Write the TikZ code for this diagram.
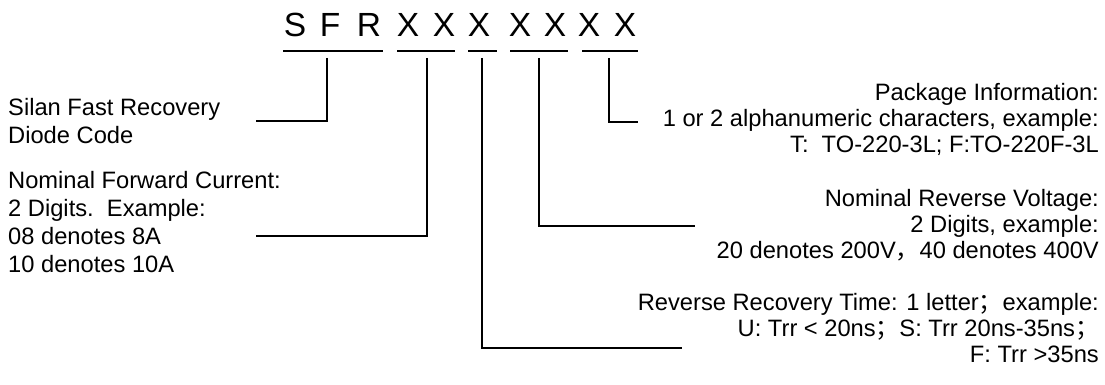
\documentclass[tikz,border=0pt]{standalone}
\usepackage{fontspec}
\setmainfont{Liberation Sans}
\newfontfamily\cjkfont{Noto Sans CJK SC}
\newcommand{\fsemi}{{\cjkfont ；}}
\newcommand{\fcomma}{{\cjkfont ，}}

\begin{document}
\begin{tikzpicture}[x=1pt, y=-1pt]
		\tikzset{
			letter/.style={anchor=base, inner sep=0pt, font=\fontsize{33.5}{36}\selectfont},
			codeline/.style={line width=1.2pt},
			leader/.style={line width=1.2pt},
			noteL/.style={anchor=base west, inner sep=0pt, align=left, font=\fontsize{23.7}{27.8}\selectfont},
			noteR/.style={anchor=base east, inner sep=0pt, align=right, font=\fontsize{23.7}{26}\selectfont}
		}

		\useasboundingbox (0,0) rectangle (1105,385);

		% part number
		\foreach \c/\x [count=\i] in {S/295, F/330, R/369, X/408, X/444, X/479, X/520, X/555, X/589, X/625}
			\node[letter] (l\i) at (\x,37) {\c};

		\foreach \a/\b in {283/383, 397/455, 468/497, 510/568, 582/638}
			\draw[codeline] (\a,51) -- (\b,51);

		% field descriptions (placed by the baseline of their last line)
		\node[noteL] (sfr) at (8,143) {Silan Fast Recovery\\Diode Code};
		\node[noteL] (cur) at (8,272) {Nominal Forward Current:\\2 Digits.\ \ Example:\\08 denotes 8A\\10 denotes 10A};
		\node[noteR] (pkg) at (1099,153) {Package Information:\\1 or 2 alphanumeric characters, example:\\T:\ \ TO-220-3L; F:TO-220F-3L};
		\node[noteR] (vol) at (1099,258) {Nominal Reverse Voltage:\\2 Digits, example:\\20 denotes 200V\fcomma 40 denotes 400V};
		\node[noteR] (trr) at (1099,362) {Reverse Recovery Time: 1 letter\fsemi example:\\U: Trr < 20ns\fsemi S: Trr 20ns-35ns\fsemi\\F: Trr >35ns};

		% leader start and end points
		\coordinate (uSFR) at (327,58);
		\coordinate (uCUR) at (427,58);
		\coordinate (uTRR) at (482,58);
		\coordinate (uVOL) at (539,58);
		\coordinate (uPKG) at (609,58);

		\coordinate (eSFR) at (256,121);
		\coordinate (eCUR) at (256,236);
		\coordinate (eTRR) at (682,348);
		\coordinate (eVOL) at (695,226);
		\coordinate (ePKG) at (638,122);

		% leaders
		\draw[leader] (uSFR) |- (eSFR);
		\draw[leader] (uCUR) |- (eCUR);
		\draw[leader] (uTRR) |- (eTRR);
		\draw[leader] (uVOL) |- (eVOL);
		\draw[leader] (uPKG) |- (ePKG);
\end{tikzpicture}
\end{document}
